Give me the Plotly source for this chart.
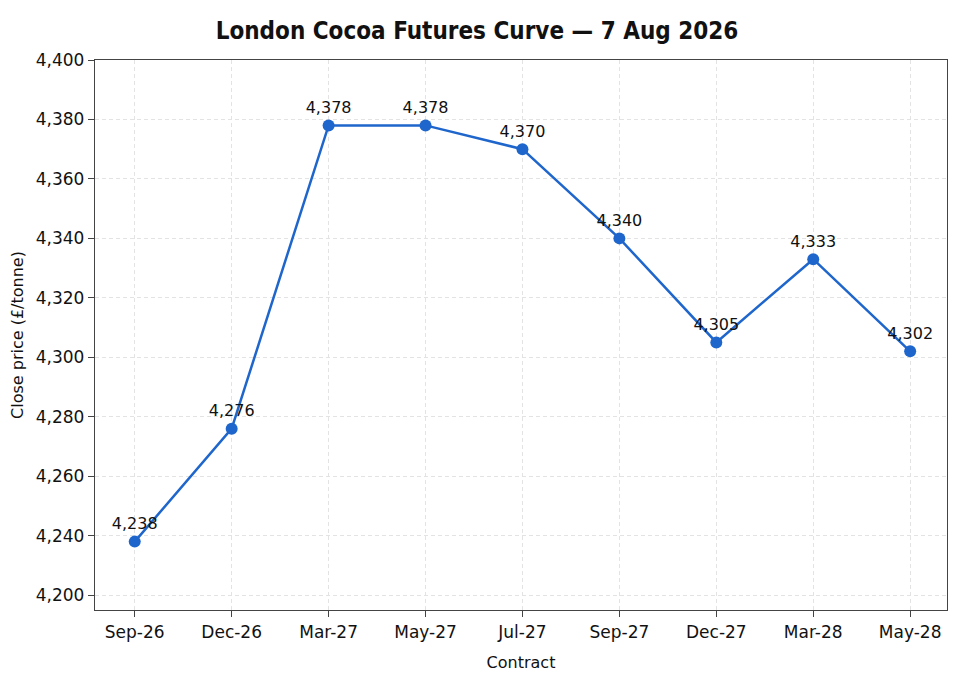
import plotly.graph_objects as go

contracts = ["Sep-26", "Dec-26", "Mar-27", "May-27", "Jul-27",
             "Sep-27", "Dec-27", "Mar-28", "May-28"]
close_prices = [4238, 4276, 4378, 4378, 4370, 4340, 4305, 4333, 4302]

# y ticks as they appear on the chart (lowest label reads 4,200)
y_tickvals = [4220, 4240, 4260, 4280, 4300, 4320, 4340, 4360, 4380, 4400]
y_ticktext = ["4,200", "4,240", "4,260", "4,280", "4,300",
              "4,320", "4,340", "4,360", "4,380", "4,400"]

line_col = "#1f66cc"
font_main = "DejaVu Sans"

fig = go.Figure()

fig.add_trace(
    go.Scatter(
        x=contracts,
        y=close_prices,
        mode="lines+markers+text",
        text=[f"{v:,}" for v in close_prices],
        textposition="top center",
        textfont=dict(size=16, color="#111111", family=font_main),
        line=dict(color=line_col, width=2.5),
        marker=dict(color=line_col, size=12),
        showlegend=False,
        cliponaxis=False,
    )
)

# page body adds ~8px margin, so the figure is a little smaller than the window
fig.update_layout(
    width=950,
    height=665,
    paper_bgcolor="white",
    plot_bgcolor="white",
    margin=dict(l=87, r=11, t=52, b=63),
    title=dict(
        text="<b>London Cocoa Futures Curve — 7 Aug 2026</b>",
        x=0.4937,
        xanchor="center",
        yref="container",
        y=1 - 23 / 665,
        yanchor="middle",
        font=dict(family="DejaVu Sans Condensed, DejaVu Sans", size=24, color="#111111"),
    ),
    font=dict(family=font_main, size=16, color="#111111"),
)

axis_common = dict(
    showline=True,
    linecolor="#444444",
    linewidth=1.3,
    mirror=True,
    ticks="outside",
    ticklen=6,
    tickcolor="#444444",
    showgrid=True,
    gridcolor="#e3e3e3",
    griddash="4px,3px",
    gridwidth=1,
    zeroline=False,
    automargin=False,
    tickfont=dict(family=font_main, size=17, color="#111111"),
)

fig.update_xaxes(
    axis_common,
    type="category",
    range=[-0.41, 8.38],
    title=dict(text="Contract", font=dict(size=16), standoff=16),
)

fig.update_yaxes(
    axis_common,
    range=[4215, 4400],
    tickvals=y_tickvals,
    ticktext=y_ticktext,
    title=dict(text="Close price (£/tonne)", font=dict(size=16), standoff=12),
)

fig.write_html("out.html")
